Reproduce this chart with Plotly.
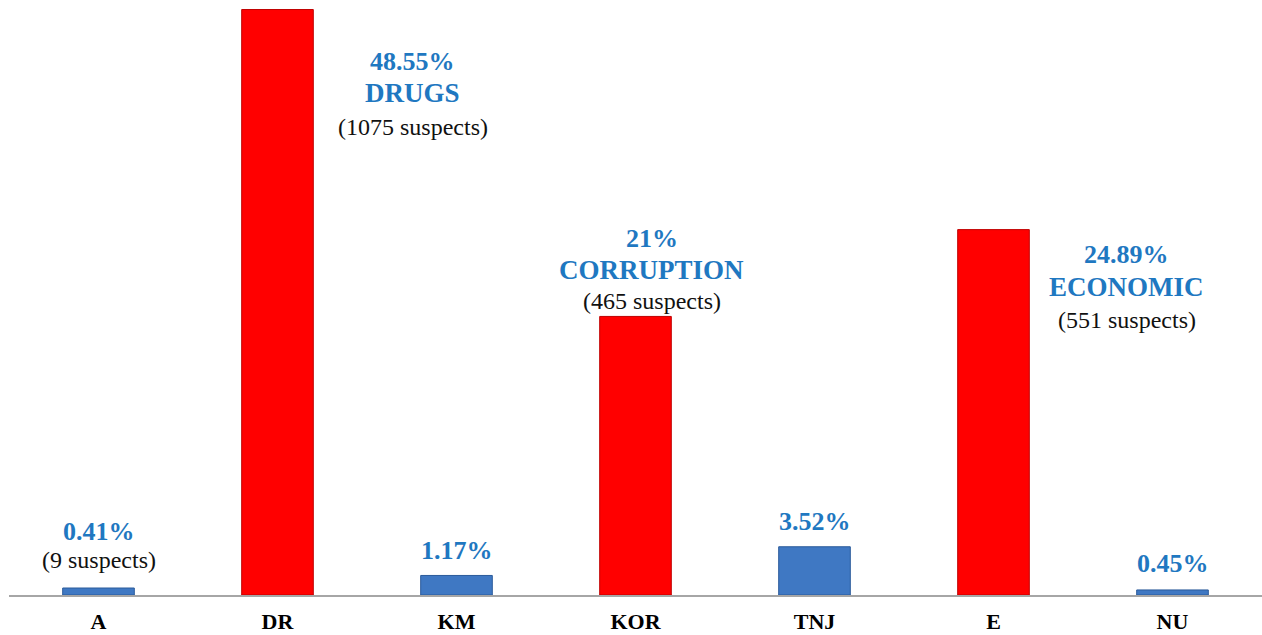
import plotly.graph_objects as go

# Data
categories = ["A", "DR", "KM", "KOR", "TNJ", "E", "NU"]
# bar heights as drawn (scaled so that DR = 48.55)
heights = [0.58, 48.55, 1.62, 23.1, 4.0, 30.3, 0.42]
pct_labels = ["0.41%", "48.55%", "1.17%", "21%", "3.52%", "24.89%", "0.45%"]
group_names = ["", "DRUGS", "", "CORRUPTION", "", "ECONOMIC", ""]
suspects = ["9", "1075", "", "465", "", "551", ""]
highlight = [False, True, False, True, False, True, False]

RED = "#FF0000"
BLUE = "#3F78C3"
TXT_BLUE = "#1F78C1"
SERIF = "Liberation Serif"

bar_colors = [RED if h else BLUE for h in highlight]
edge_colors = ["#C00000" if h else "#2A5A9A" for h in highlight]

fig = go.Figure(
    go.Bar(
        x=categories,
        y=heights,
        width=0.4,
        marker=dict(color=bar_colors, line=dict(color=edge_colors, width=1)),
        hoverinfo="skip",
    )
)

# label placement (pixel offsets from bar top / bar center)
# big bars: text sits beside the bar; small bars: text sits above
offsets = {
    "A": (0, [57, 0, 28]),
    "DR": (135, [-52, -83, -117]),
    "KM": (0, [25, 0, 0]),
    "KOR": (16, [78, 46, 15]),
    "TNJ": (0, [25, 0, 0]),
    "E": (133, [-25, -57, -90]),
    "NU": (0, [26, 0, 0]),
}

annotations = []
for cat, h, pct, name, sus in zip(categories, heights, pct_labels, group_names, suspects):
    dx, (dy_pct, dy_name, dy_sus) = offsets[cat]
    lines = [(pct, dy_pct, dict(family=SERIF, size=26, color=TXT_BLUE, weight="bold"))]
    if name:
        lines.append((name, dy_name, dict(family=SERIF, size=27, color=TXT_BLUE, weight="bold")))
    if sus:
        lines.append((f"({sus} suspects)", dy_sus, dict(family=SERIF, size=24, color="#111111")))
    for text, dy, font in lines:
        annotations.append(dict(
            x=cat, y=h, xref="x", yref="y", text=text, showarrow=False,
            xanchor="center", yanchor="middle", xshift=dx, yshift=dy, font=font,
        ))

fig.update_layout(
    width=1262,
    height=635,
    margin=dict(l=9, r=0, t=0, b=40),
    paper_bgcolor="white",
    plot_bgcolor="white",
    showlegend=False,
    bargap=0.6,
    annotations=annotations,
    xaxis=dict(
        showline=True, linecolor="#A6A6A6", linewidth=1.5,
        showgrid=False, ticks="", ticklabelstandoff=6, automargin=False,
        tickfont=dict(family=SERIF, size=22, color="black", weight="bold"),
    ),
    yaxis=dict(range=[0, 49.34], visible=False, showgrid=False,
               zeroline=False, automargin=False),
)

# drop the default page margin so the figure sits at the window corner
fig.write_html(
    "out.html",
    config={"displayModeBar": False},
    post_script="document.body.style.margin='0';",
)
